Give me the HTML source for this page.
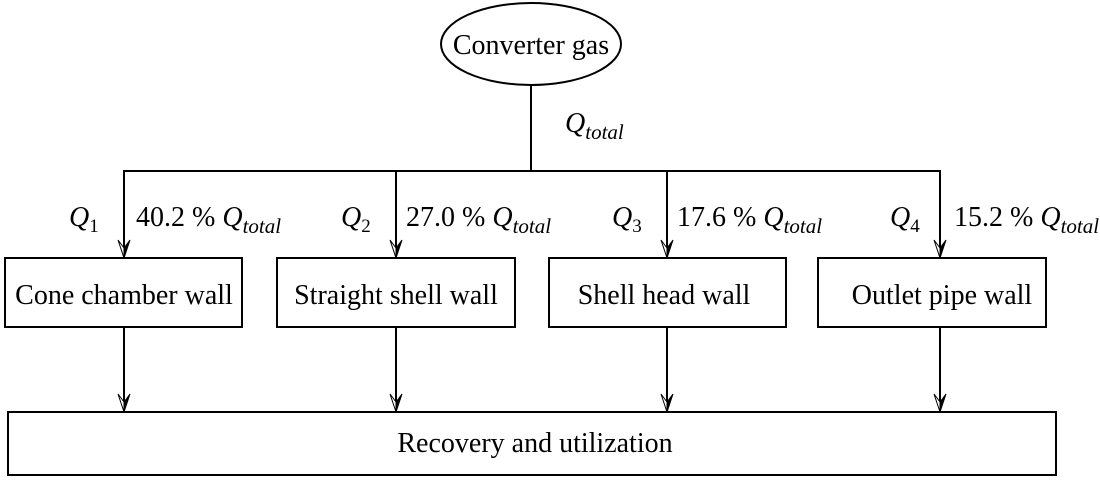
<!DOCTYPE html>
<html><head><meta charset="utf-8"><style>
html,body{margin:0;padding:0;background:#fff;}
svg{display:block;}
text{font-family:"Liberation Serif",serif;fill:#000;}
.t{font-size:28px;}
.q{font-size:28px;font-style:italic;}
.s{font-size:19px;}
.si{font-size:21px;font-style:italic;}
</style></head><body>
<svg width="1100" height="484" viewBox="0 0 1100 484" xmlns="http://www.w3.org/2000/svg">
<defs>
<g id="ah">
<path d="M0 0 L-6 -18 L0 -10 Z" fill="#fff" stroke="#000" stroke-width="1"/>
<path d="M0 0 L6 -18 L0 -10 Z" fill="#000" stroke="#000" stroke-width="1"/>
</g>
</defs>
<g stroke="#000" stroke-width="2" fill="none">
<ellipse cx="531" cy="44" rx="90" ry="41" fill="#fff"/>
<line x1="531" y1="85" x2="531" y2="171"/>
<line x1="123" y1="171" x2="941" y2="171"/>
<line x1="124" y1="170" x2="124" y2="255"/>
<line x1="396" y1="170" x2="396" y2="255"/>
<line x1="667" y1="170" x2="667" y2="255"/>
<line x1="940" y1="170" x2="940" y2="255"/>
<rect x="5" y="258" width="237" height="69"/>
<rect x="277" y="258" width="238" height="69"/>
<rect x="549" y="258" width="237" height="69"/>
<rect x="818" y="258" width="228" height="69"/>
<line x1="124" y1="327" x2="124" y2="410"/>
<line x1="396" y1="327" x2="396" y2="410"/>
<line x1="667" y1="327" x2="667" y2="410"/>
<line x1="940" y1="327" x2="940" y2="410"/>
<rect x="8" y="412" width="1048" height="63"/>
</g>
<use href="#ah" x="124" y="258"/>
<use href="#ah" x="396" y="258"/>
<use href="#ah" x="667" y="258"/>
<use href="#ah" x="940" y="258"/>
<use href="#ah" x="124" y="412"/>
<use href="#ah" x="396" y="412"/>
<use href="#ah" x="667" y="412"/>
<use href="#ah" x="940" y="412"/>

<text class="t" x="531" y="54" text-anchor="middle">Converter gas</text>
<text x="565" y="132"><tspan class="q">Q</tspan><tspan class="si" dy="7">total</tspan></text>

<text x="69" y="226"><tspan class="q">Q</tspan><tspan class="s" dy="6">1</tspan></text>
<text x="136" y="226"><tspan class="t">40.2 % </tspan><tspan class="q">Q</tspan><tspan class="si" dy="7">total</tspan></text>
<text x="341" y="226"><tspan class="q">Q</tspan><tspan class="s" dy="6">2</tspan></text>
<text x="406" y="226"><tspan class="t">27.0 % </tspan><tspan class="q">Q</tspan><tspan class="si" dy="7">total</tspan></text>
<text x="612" y="226"><tspan class="q">Q</tspan><tspan class="s" dy="6">3</tspan></text>
<text x="677" y="226"><tspan class="t">17.6 % </tspan><tspan class="q">Q</tspan><tspan class="si" dy="7">total</tspan></text>
<text x="890" y="226"><tspan class="q">Q</tspan><tspan class="s" dy="6">4</tspan></text>
<text x="954" y="226"><tspan class="t">15.2 % </tspan><tspan class="q">Q</tspan><tspan class="si" dy="7">total</tspan></text>

<text class="t" x="124" y="304" text-anchor="middle">Cone chamber wall</text>
<text class="t" x="396" y="304" text-anchor="middle">Straight shell wall</text>
<text class="t" x="664" y="304" text-anchor="middle">Shell head wall</text>
<text class="t" x="942" y="304" text-anchor="middle">Outlet pipe wall</text>
<text class="t" x="535" y="452" text-anchor="middle">Recovery and utilization</text>
</svg>
</body></html>
